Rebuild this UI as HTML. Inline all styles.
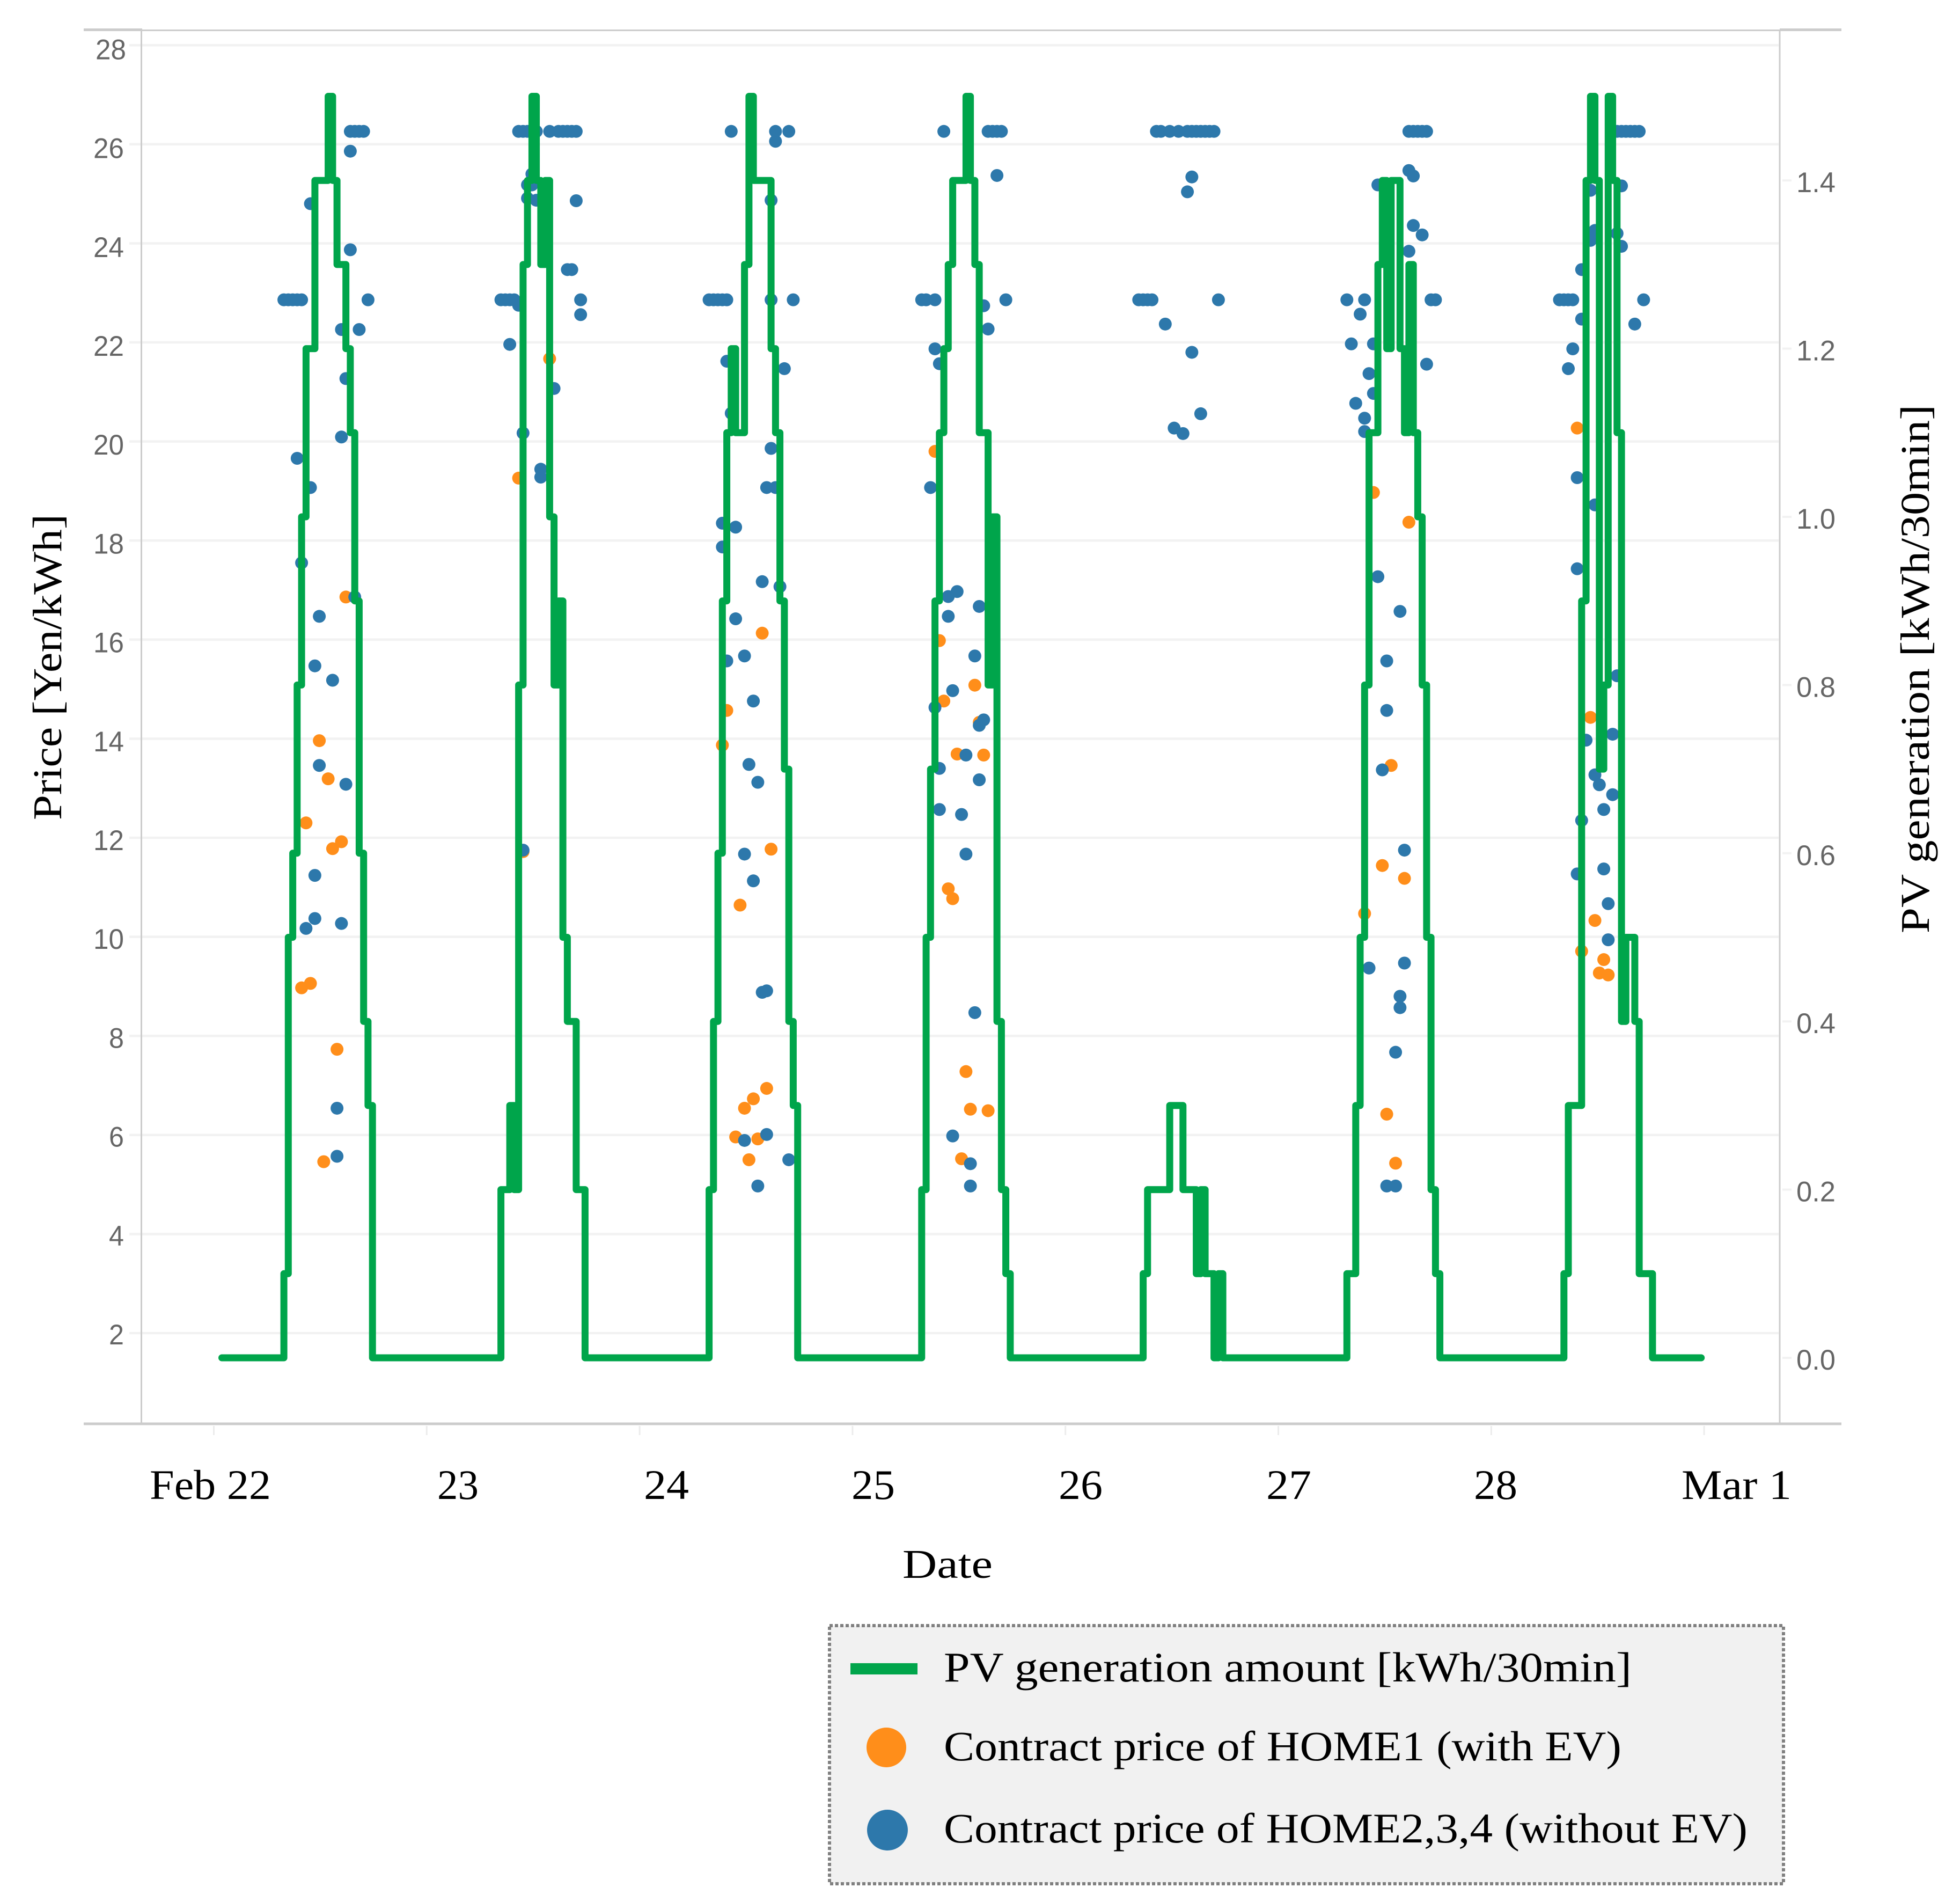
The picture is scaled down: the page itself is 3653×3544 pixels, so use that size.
<!DOCTYPE html>
<html lang="en">
<head>
<meta charset="utf-8">
<title>PV generation and contract price</title>
<style>
html,body{margin:0;padding:0;background:#fff;}
svg{display:block;}
.serif{font-family:"Liberation Serif",serif;fill:#000;}
.tick{font-family:"Liberation Sans",sans-serif;fill:#666;font-size:53px;}
</style>
</head>
<body>
<svg id="chart" xmlns="http://www.w3.org/2000/svg" width="3653" height="3544" viewBox="0 0 3653 3544">
  <rect width="3653" height="3544" fill="#fff"/>
  <g id="grid"></g>
  <g id="axes">
    <line x1="156" x2="265" y1="55.5" y2="55.5" stroke="#ccc" stroke-width="5"/>
    <line x1="265" x2="3317" y1="56.5" y2="56.5" stroke="#ccc" stroke-width="3"/>
    <line x1="3317" x2="3432" y1="55.5" y2="55.5" stroke="#ccc" stroke-width="5"/>
    <line x1="156" x2="3432" y1="2653" y2="2653" stroke="#ccc" stroke-width="5"/>
    <line x1="263.5" x2="263.5" y1="56" y2="2653" stroke="#ccc" stroke-width="3"/>
    <line x1="3317" x2="3317" y1="56" y2="2653" stroke="#ccc" stroke-width="3"/>
  </g>
  <g id="ticks"></g>
  <g id="orangeDots"></g>
  <g id="blueDots"></g>
  <path id="pvLine" fill="none" stroke="#00a54b" stroke-width="13" stroke-linejoin="round" stroke-linecap="round"/>

  <text class="serif" font-size="76" transform="translate(114,1528) rotate(-90)" textLength="570" lengthAdjust="spacingAndGlyphs">Price [Yen/kWh]</text>
  <text class="serif" font-size="76" transform="translate(3595,1739) rotate(-90)" textLength="985" lengthAdjust="spacingAndGlyphs">PV generation [kWh/30min]</text>
  <text class="serif" font-size="76" x="1682" y="2940" textLength="168" lengthAdjust="spacingAndGlyphs">Date</text>
  <g id="xLabels"></g>

  <g>
    <rect x="1546" y="3029" width="1778" height="481" fill="#f1f1f1" stroke="#808080" stroke-width="6" stroke-dasharray="6 4"/>
    <rect x="1585" y="3099" width="125" height="21" fill="#00a54b"/>
    <text class="serif" font-size="78" x="1759" y="3133" textLength="1282" lengthAdjust="spacingAndGlyphs">PV generation amount [kWh/30min]</text>
    <circle cx="1652" cy="3256" r="37" fill="#ff8e1a"/>
    <text class="serif" font-size="78" x="1759" y="3280" textLength="1263" lengthAdjust="spacingAndGlyphs">Contract price of HOME1 (with EV)</text>
    <circle cx="1654" cy="3410" r="38" fill="#2d78ab"/>
    <text class="serif" font-size="78" x="1759" y="3433" textLength="1498" lengthAdjust="spacingAndGlyphs">Contract price of HOME2,3,4 (without EV)</text>
  </g>
</svg>
<script>
// Axis tick values
const priceTicks = [2,4,6,8,10,12,14,16,18,20,22,24,26,28];
const pvTicks = [0,0.2,0.4,0.6,0.8,1.0,1.2,1.4];
const dateLabels = ["Feb 22","23","24","25","26","27","28","Mar 1"];
const dateTickDays = [0,1,2,3,4,5,6,7];
const dateLabelStart = [279,815,1200,1587,1973,2360,2747,3134];
const dateLabelWidth = [226,77,84,81,82,84,81,205];

// PV series: half-hour slot of each change, and the level from that slot on
const pvSlots = [
 2,16,17,18,19,20,21,23,26,27,28,30,31,32,33,34,35,36,
 65,67,68,69,70,71,72,73,74,75,76,77,78,79,80,82,84,
 112,113,114,115,116,117,118,120,121,122,126,127,128,129,130,131,132,
 160,161,162,163,164,165,166,167,170,171,172,173,175,176,177,178,179,180,
 210,211,216,219,222,223,224,226,227,228,
 256,258,259,260,261,263,264,265,266,268,269,270,271,272,273,274,275,276,277,
 305,306,309,310,311,312,313,314,315,316,317,318,319,321,322,325,336];
const pvLevels = [
 0,.1,.5,.6,.8,1,1.2,1.4,1.5,1.4,1.3,1.2,1.1,.9,.6,.4,.3,0,
 .2,.3,.2,.8,1.3,1.4,1.5,1.4,1.3,1.4,1,.8,.9,.5,.4,.2,0,
 .2,.4,.6,.9,1.1,1.2,1.1,1.3,1.5,1.4,1.2,1.1,.9,.7,.4,.3,0,
 .2,.5,.7,.9,1.1,1.2,1.3,1.4,1.5,1.4,1.3,1.1,.8,1,.4,.2,.1,0,
 .1,.2,.3,.2,.1,.2,.1,0,.1,0,
 .1,.3,.5,.8,1.1,1.3,1.4,1.2,1.4,1.2,1.1,1.3,1.1,1,.8,.5,.2,.1,0,
 .1,.3,.9,1.4,1.5,1.4,.7,.8,1.5,1.4,1.1,.4,.5,.4,.1,0,0];

// HOME1 contract prices
const home1Slots = [
 30,24,26,21,29,27,22,20,28,25,
 70,76,69,
 124,116,115,126,119,125,122,120,118,123,121,
 163,164,172,165,173,168,174,166,167,170,171,175,169,
 262,270,266,264,269,260,265,267,
 308,311,312,309,314,313,315];
const home1Prices = [
 16.86,13.96,13.19,12.3,11.92,11.78,9.06,8.97,7.73,5.46,
 11.72,21.67,19.26,
 16.13,14.57,13.87,11.77,10.64,6.94,6.73,6.54,5.96,5.92,5.5,
 19.8,15.98,15.08,14.76,14.33,13.69,13.67,10.97,10.77,7.28,6.52,6.49,5.52,
 18.97,18.37,13.46,11.44,11.18,10.47,6.42,5.43,
 20.27,14.43,10.33,9.71,9.54,9.27,9.23];

// HOME2,3,4 contract prices
const home234Slots = [
 16,17,18,19,20,31,32,33,34,31,22,31,35,29,33,30,29,19,22,20,24,32,23,27,24,30,23,23,29,21,28,28,
 69,70,71,72,73,76,78,79,80,81,82,65,66,67,68,69,67,77,70,74,74,82,80,81,83,83,72,71,72,71,73,70,
 117,127,130,127,126,112,113,114,115,116,126,131,116,117,129,126,125,127,115,118,115,124,128,118,116,120,122,121,123,120,122,124,125,120,125,130,123,
 165,175,176,177,178,177,160,161,163,179,174,175,163,164,162,168,166,173,166,172,167,163,174,173,170,164,173,164,169,170,172,167,171,171,
 213,214,216,218,220,221,222,223,224,225,226,221,220,209,210,211,212,227,215,221,223,217,219,
 270,271,272,273,274,270,271,263,271,273,270,256,260,275,276,259,257,262,274,261,262,258,260,260,263,268,265,265,264,269,261,269,268,268,267,265,267,
 304,305,306,307,316,317,318,319,320,321,322,318,311,312,311,317,318,309,323,309,321,307,306,308,312,308,317,316,310,312,313,316,314,309,314,308,315,315];
const home234Prices = [
 22.86,22.86,22.86,22.86,22.86,26.26,26.26,26.26,26.26,25.86,24.8,23.87,22.86,22.26,22.26,21.27,20.09,19.66,19.07,17.55,16.47,16.86,15.47,15.18,13.46,13.08,11.24,10.37,10.27,10.17,6.54,5.57,
 26.26,26.26,26.26,26.26,26.26,26.26,26.26,26.26,26.26,26.26,26.26,22.86,22.86,22.86,22.86,22.75,21.96,21.07,20.17,19.44,19.28,24.86,23.47,23.47,22.86,22.56,25.4,25.18,25.18,24.91,24.87,11.75,
 26.26,26.26,26.26,26.06,24.87,22.86,22.86,22.86,22.86,22.86,22.86,22.86,21.62,20.57,21.47,19.86,19.07,19.07,18.35,18.27,17.87,17.17,17.07,16.42,15.57,15.67,14.76,13.48,13.12,11.67,11.13,8.88,8.91,5.89,6.01,5.5,4.97,
 26.26,26.26,26.26,26.26,26.26,25.37,22.86,22.86,22.86,22.86,22.74,22.27,21.87,21.57,19.07,16.97,16.87,16.67,16.47,15.67,14.97,14.63,14.38,14.27,13.67,13.4,13.17,12.57,12.47,11.67,8.47,5.98,5.42,4.97,
 26.26,26.26,26.26,26.26,26.26,26.26,26.26,26.26,26.26,26.26,26.26,25.34,25.04,22.86,22.86,22.86,22.86,22.86,22.37,21.8,20.56,20.27,20.16,
 26.26,26.26,26.26,26.26,26.26,25.47,25.36,25.18,24.36,24.17,23.84,22.86,22.86,22.86,22.86,22.57,21.97,21.97,21.56,21.37,20.97,20.77,20.47,20.2,17.27,16.57,15.57,14.57,13.37,11.75,9.37,9.47,8.8,8.57,7.67,4.97,4.97,
 22.86,22.86,22.86,22.86,26.26,26.26,26.26,26.26,26.26,26.26,26.26,25.16,25.07,24.26,24.06,24.2,23.94,23.47,22.86,22.47,22.37,21.87,21.47,19.27,18.72,17.43,15.27,14.09,13.97,13.27,13.07,12.87,12.57,12.35,11.37,11.27,10.67,9.94];

// Axis functions
function xSlot(slot){ return 397 + 8.255 * slot; }
function xDay(day){ return 398.5 + 396.8 * day; }
function yPrice(price){ return 2484 - (price - 2) * 92.3; }
function yPv(pv){ return 2530 - pv * 1567; }
function yPriceLabel(price){ return 2505 - (price - 2) * 92.1; }

const SVGNS = "http://www.w3.org/2000/svg";
function make(tag, parent, attrs, text){
  const el = document.createElementNS(SVGNS, tag);
  for (const k in attrs) el.setAttribute(k, attrs[k]);
  if (text !== undefined) el.textContent = text;
  parent.appendChild(el);
  return el;
}

const gridG = document.getElementById("grid");
const ticksG = document.getElementById("ticks");
priceTicks.forEach(function(p){
  const y = yPrice(p);
  const line = make("line", gridG, {x1:241, x2:3315, y1:y, y2:y, stroke:"#f2f2f2", "stroke-width":4.6});
  
  
  const str = String(p);
  const labelX = p === 28 ? 235 : 231;
  const labelW = str.length === 1 ? 28 : 57;
  const label = make("text", ticksG, {class:"tick", x:labelX, y:yPriceLabel(p), "text-anchor":"end", textLength:labelW, lengthAdjust:"spacingAndGlyphs"}, str);
  
  
});
pvTicks.forEach(function(v){
  const y = yPv(v);
  const mark = make("line", ticksG, {x1:3322, x2:3339, y1:y, y2:y, stroke:"#f2f2f2", "stroke-width":4});
  
  
  const label = make("text", ticksG, {class:"tick", x:3348, y:y + 22, textLength:73, lengthAdjust:"spacingAndGlyphs"}, v.toFixed(1));
  
  
});
dateTickDays.forEach(function(d){
  const x = xDay(d);
  const mark = make("line", ticksG, {x1:x, x2:x, y1:2657, y2:2674, stroke:"#ececec", "stroke-width":3});
  
  
});
const xLabelsG = document.getElementById("xLabels");
dateLabels.forEach(function(t, i){
  const label = make("text", xLabelsG, {class:"serif", "font-size":78, x:dateLabelStart[i], y:2793, textLength:dateLabelWidth[i], lengthAdjust:"spacingAndGlyphs"}, t);
  
  
});

const orangeG = document.getElementById("orangeDots");
home1Slots.forEach(function(s, i){
  const dot = make("circle", orangeG, {cx:xSlot(s), cy:yPrice(home1Prices[i]), r:12, fill:"#ff8e1a"});
  
  
});
const blueG = document.getElementById("blueDots");
home234Slots.forEach(function(s, i){
  const dot = make("circle", blueG, {cx:xSlot(s), cy:yPrice(home234Prices[i]), r:12, fill:"#2d78ab"});
  
  
});

let d = "";
pvSlots.forEach(function(s, i){
  const x = xSlot(s).toFixed(1);
  const y = yPv(pvLevels[i]).toFixed(1);
  if (i === 0) { d += "M" + x + " " + y; }
  else { d += "H" + x + "V" + y; }
});
document.getElementById("pvLine").setAttribute("d", d);
</script>
</body>
</html>
